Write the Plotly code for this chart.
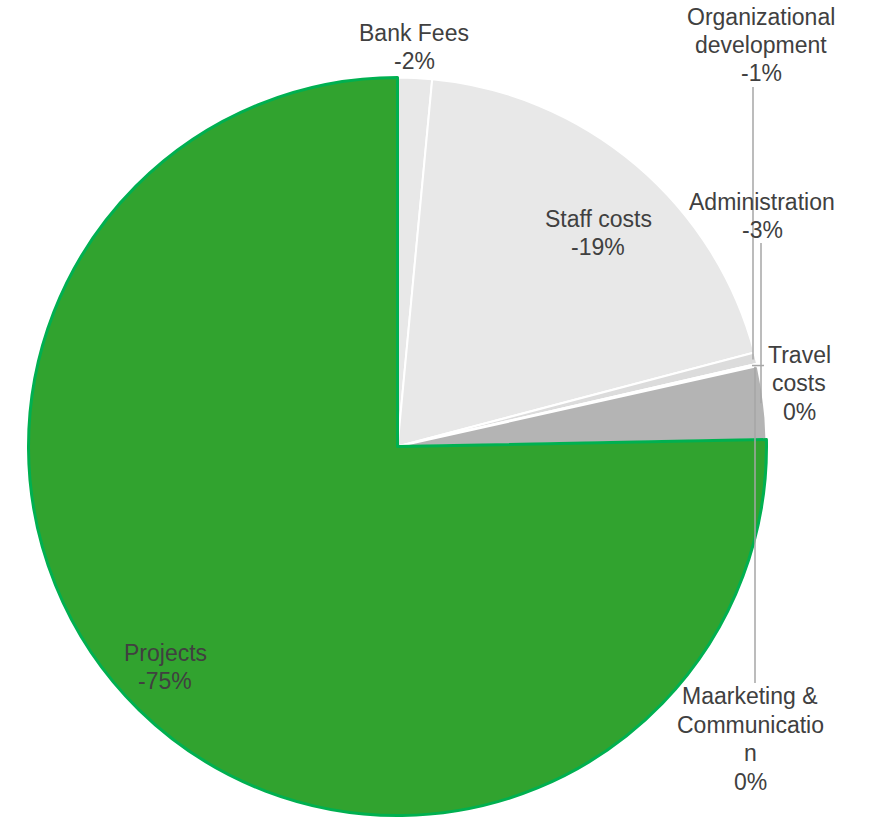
import math
import plotly.graph_objects as go

# ---- data ----
categories = ["Bank Fees", "Staff costs", "Organizational development", "Travel costs",
              "Maarketing & Communication", "Administration", "Projects"]
values = [1.5, 19.4, 0.5, 0.05, 0.05, 3.2, 75.3]
label_texts = ["Bank Fees<br>-2%", "Staff costs<br>-19%", "Organizational<br>development<br>-1%",
               "Travel<br>costs<br>0%", "Maarketing &<br>Communicatio<br>n<br>0%",
               "Administration<br>-3%", "Projects<br>-75%"]
colors = ["#e8e8e8", "#e8e8e8", "#dcdcdc", "#d0d0d0", "#c8c8c8", "#b4b4b4", "#31a32f"]
line_colors = ["#ffffff"] * 6 + ["#00b050"]
line_widths = [2, 2, 2, 2, 2, 2, 3]

W, H = 872, 818
CX, CY, R = 397.5, 446.5, 369.0

fig = go.Figure(go.Pie(
    labels=categories, values=values, sort=False, direction="clockwise", rotation=0,
    marker=dict(colors=colors, line=dict(color=line_colors, width=line_widths)),
    textinfo="none", hoverinfo="skip", showlegend=False,
    domain=dict(x=[(CX - R) / W, (CX + R) / W], y=[1 - (CY + R) / H, 1 - (CY - R) / H]),
))

# label positions (pixel centers) -- layout choices
label_pos = {
    "Bank Fees": (414, 47),
    "Staff costs": (598, 233),
    "Organizational development": (761, 45),
    "Travel costs": (799, 383),
    "Maarketing & Communication": (750, 739),
    "Administration": (762, 216),
    "Projects": (165, 667),
}
LINE_H = 28.5

def px2paper(x, y):
    return x / W, 1 - y / H

# slice midpoint anchors from data
total = sum(values)
anchors = {}
cum = 0.0
for c, v in zip(categories, values):
    mid = (cum + v / 2) / total * 2 * math.pi
    anchors[c] = (CX + 0.985 * R * math.sin(mid), CY - 0.985 * R * math.cos(mid))
    cum += v

annotations = []
for c, t in zip(categories, label_texts):
    lines = t.split("<br>")
    n = len(lines)
    cx, cy = label_pos[c]
    for i, ln in enumerate(lines):
        x, y = px2paper(cx, cy + (i - (n - 1) / 2) * LINE_H)
        annotations.append(dict(x=x, y=y, xref="paper", yref="paper", text=ln, showarrow=False,
                                xanchor="center", yanchor="middle",
                                font=dict(family="Liberation Sans, Arial", size=23, color="#404040")))

shapes = []
lc = dict(color="#a6a6a6", width=1.5)
def seg(x0, y0, x1, y1):
    a = px2paper(x0, y0); b = px2paper(x1, y1)
    shapes.append(dict(type="line", xref="paper", yref="paper", x0=a[0], y0=a[1], x1=b[0], y1=b[1], line=lc))

ax, ay = anchors["Organizational development"]
seg(753, 87, 753, ay)
ax, ay = anchors["Administration"]
seg(761, 243, 761, ay)
ax, ay = anchors["Travel costs"]
seg(764, ay, 752, ay)
ax, ay = anchors["Maarketing & Communication"]
seg(755, 683, 755, ay)

fig.update_layout(width=W, height=H, margin=dict(l=0, r=0, t=0, b=0),
                  paper_bgcolor="white", plot_bgcolor="white",
                  annotations=annotations, shapes=shapes)
fig.write_html("out.html")
